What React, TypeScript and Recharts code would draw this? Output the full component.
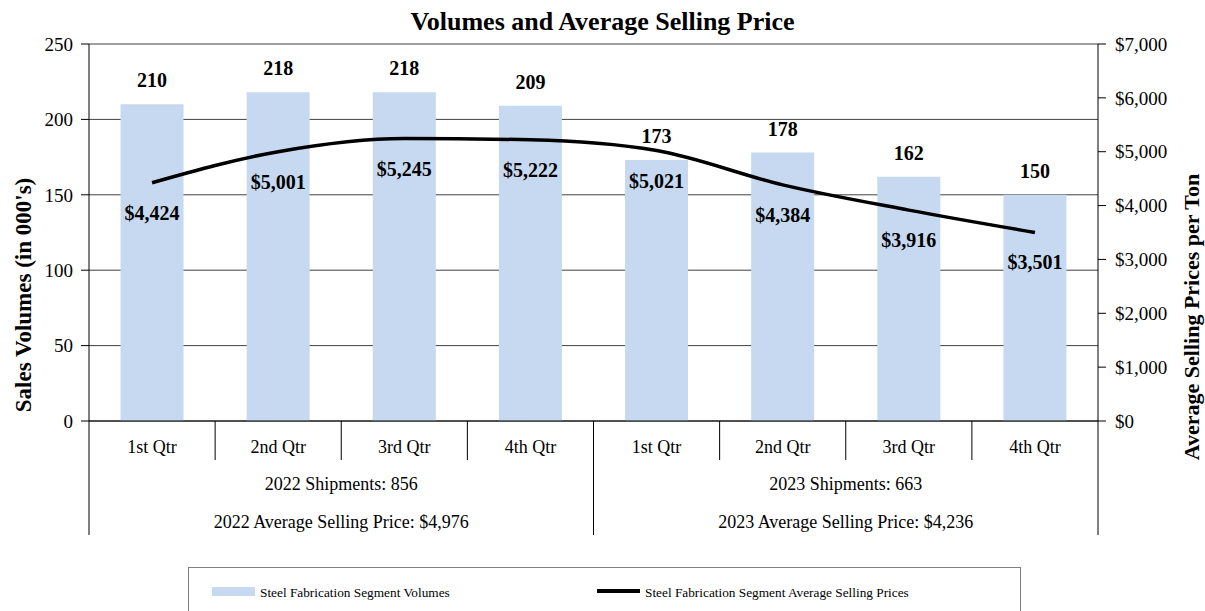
import React from "react"
import { ComposedChart, Bar, Line, XAxis, YAxis, CartesianGrid, LabelList, Legend } from "recharts"

const keys = ["2022-Q1", "2022-Q2", "2022-Q3", "2022-Q4", "2023-Q1", "2023-Q2", "2023-Q3", "2023-Q4"]
const quarterLabels = ["1st Qtr", "2nd Qtr", "3rd Qtr", "4th Qtr", "1st Qtr", "2nd Qtr", "3rd Qtr", "4th Qtr"]
const volumes = [210, 218, 218, 209, 173, 178, 162, 150]
const prices = [4424, 5001, 5245, 5222, 5021, 4384, 3916, 3501]

const years = ["2022", "2023"]
const shipments = [856, 663]
const yearAvgPrices = [4976, 4236]

const volumeTicks = [0, 50, 100, 150, 200, 250]
const priceTicks = [0, 1000, 2000, 3000, 4000, 5000, 6000, 7000]

const data = keys.map((key, i) => ({
  key,
  quarter: quarterLabels[i],
  volume: volumes[i],
  price: prices[i],
}))

const FONT = '"Liberation Serif", "Times New Roman", serif'
const W = 1205
const H = 611
const PLOT_LEFT = 89
const PLOT_RIGHT = 1098
const PLOT_TOP = 44
const AXIS_Y = 421
const BAND = (PLOT_RIGHT - PLOT_LEFT) / keys.length
const BAR_COLOR = "#c6d9f0"

const fmtMoney = (v: number) => `$${v.toLocaleString("en-US")}`

function QuarterTick(props: any) {
  const { x, index } = props
  const left = x - BAND / 2
  const yearStart = index % 4 === 0
  const yearIdx = Math.floor(index / 4)
  return (
    <g>
      <line x1={left} y1={AXIS_Y} x2={left} y2={yearStart ? 535 : 460} stroke="#000" strokeWidth={1} />
      {index === keys.length - 1 && (
        <line x1={x + BAND / 2} y1={AXIS_Y} x2={x + BAND / 2} y2={535} stroke="#000" strokeWidth={1} />
      )}
      <text x={x} y={453} textAnchor="middle" fontSize={18} fontFamily={FONT} fill="#000">
        {quarterLabels[index]}
      </text>
      {yearStart && (
        <g>
          <text x={left + BAND * 2} y={490} textAnchor="middle" fontSize={18} fontFamily={FONT} fill="#000">
            {`${years[yearIdx]} Shipments: ${shipments[yearIdx]}`}
          </text>
          <text x={left + BAND * 2} y={528} textAnchor="middle" fontSize={18} fontFamily={FONT} fill="#000">
            {`${years[yearIdx]} Average Selling Price: ${fmtMoney(yearAvgPrices[yearIdx])}`}
          </text>
        </g>
      )}
    </g>
  )
}

function PriceLabel(props: any) {
  const { x, y, value } = props
  return (
    <text x={x} y={y + 37} textAnchor="middle" fontSize={20} fontWeight="bold" fontFamily={FONT} fill="#000">
      {fmtMoney(value)}
    </text>
  )
}

function LegendBox() {
  return (
    <svg width={833} height={45} style={{ display: "block" }}>
      <rect x={0.5} y={0.5} width={832} height={60} fill="#fff" stroke="#808080" strokeWidth={1} />
      <rect x={24} y={20} width={43} height={9} fill={BAR_COLOR} />
      <text x={72} y={30} fontSize={13.3} fontFamily={FONT} fill="#000">Steel Fabrication Segment Volumes</text>
      <line x1={409} y1={24} x2={452} y2={24} stroke="#000" strokeWidth={4} />
      <text x={457} y={30} fontSize={13.3} fontFamily={FONT} fill="#000">Steel Fabrication Segment Average Selling Prices</text>
    </svg>
  )
}

export default function App() {
  return (
    <div style={{ position: "absolute", left: 0, top: 0, width: W, height: H, background: "#fff", fontFamily: FONT, overflow: "hidden" }}>
      <div style={{ position: "absolute", left: 0, top: 7, width: W, textAlign: "center", fontSize: 26, lineHeight: "30px", fontWeight: "bold", fontFamily: FONT, color: "#000", zIndex: 2 }}>
        Volumes and Average Selling Price
      </div>
      <ComposedChart
        width={W}
        height={H}
        data={data}
        margin={{ top: PLOT_TOP, right: W - PLOT_RIGHT - 80, left: PLOT_LEFT - 60, bottom: 31 }}
        barCategoryGap="25%"
      >
        <CartesianGrid yAxisId="vol" vertical={false} stroke="#404040" strokeWidth={1} />
        <XAxis
          dataKey="key"
          height={114}
          interval={0}
          tickLine={false}
          axisLine={{ stroke: "#000" }}
          tick={<QuarterTick />}
        />
        <YAxis
          yAxisId="vol"
          width={60}
          domain={[0, 250]}
          ticks={volumeTicks}
          tickSize={8}
          tickMargin={8}
          tickLine={{ stroke: "#000" }}
          axisLine={{ stroke: "#000" }}
          tick={{ fontSize: 19, fill: "#000", fontFamily: FONT }}
          label={{
            content: () => (
              <text x={31} y={295} transform="rotate(-90 31 295)" textAnchor="middle" fontSize={23} fontWeight="bold" fontFamily={FONT} fill="#000">
                Sales Volumes (in 000's)
              </text>
            ),
          }}
        />
        <YAxis
          yAxisId="price"
          orientation="right"
          width={80}
          domain={[0, 7000]}
          ticks={priceTicks}
          tickSize={8}
          tickMargin={9}
          tickFormatter={fmtMoney}
          tickLine={{ stroke: "#000" }}
          axisLine={{ stroke: "#000" }}
          tick={{ fontSize: 19, fill: "#000", fontFamily: FONT, textAnchor: "start" }}
          label={{
            content: () => (
              <text x={1199} y={317} transform="rotate(-90 1199 317)" textAnchor="middle" fontSize={22} fontWeight="bold" fontFamily={FONT} fill="#000">
                Average Selling Prices per Ton
              </text>
            ),
          }}
        />
        <Legend
          content={<LegendBox />}
          wrapperStyle={{ position: "absolute", left: 188, top: 567, width: 833, height: 45 }}
        />
        <Bar yAxisId="vol" dataKey="volume" fill={BAR_COLOR} isAnimationActive={false}>
          <LabelList dataKey="volume" position="top" offset={17} fontSize={20} fontWeight="bold" fontFamily={FONT} fill="#000" />
        </Bar>
        <Line
          yAxisId="price"
          type="monotone"
          dataKey="price"
          stroke="#000"
          strokeWidth={3.5}
          dot={false}
          activeDot={false}
          isAnimationActive={false}
        >
          <LabelList dataKey="price" content={<PriceLabel />} />
        </Line>
      </ComposedChart>
    </div>
  )
}
